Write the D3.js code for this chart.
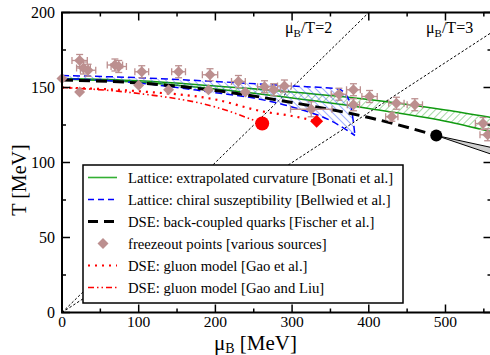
<!DOCTYPE html>
<html><head><meta charset="utf-8">
<script src="https://cdn.jsdelivr.net/npm/d3@7"></script>
<style>body{margin:0;background:#fff}svg{display:block;font-family:"Liberation Serif","Times New Roman",serif}</style>
</head><body><svg id="c" width="490" height="355"></svg>
<script>
// ---- data ----
const xTicks = [0,100,200,300,400,500];
const yTicks = [0,50,100,150,200];
// Lattice: extrapolated curvature (Bonati) band edges
const bonMu    = [0,100,200,300,400,500,560];
const bonUpper = [156,154.5,151,147,142,135,130];
const bonLower = [155.5,153.5,149,143,136,127.5,120.5];
// Lattice: chiral susceptibility (Bellwied) band edges
const belMuU   = [0,100,200,300,360,375,382];
const belUpper = [158,156.5,154,151,149,141,118];
const belMuL   = [0,100,200,250,300,350,382];
const belLower = [156,153,146.5,143,137,128,118];
// DSE back-coupled quarks (Fischer)
const dseMu = [0,100,200,300,400,488];
const dseT  = [155,153,148,140,130,118];
const cepMu = 488, cepT = 118;
const foUpperMu = [488,560], foUpperT = [118,110];
const foLowerMu = [488,560], foLowerT = [118,105.5];
// DSE gluon model (Gao et al.) dotted, ends at diamond
const gaoMu = [0,100,200,262,300,332];
const gaoT  = [150,147.5,142,134,131,127.5];
// DSE gluon model (Gao and Liu) dash-dot, ends at circle
const gaoLiuMu = [0,100,200,261];
const gaoLiuT  = [150,146,137,126];
// freezeout points
const foMu  = [0,23,28,34,23,69,74,100,104,139,152,193,191,230,239,264,276,290,325,361,380,380,401,430,436,460,549,555];
const foT   = [156,168,163,161.5,147,165,164,151.5,160.5,148.5,160.5,158.5,148.5,154,147,150.5,148.5,151,135.5,145.5,148.5,138.5,144,130.5,139.5,138.5,126,118.5];
const foDmu = [4,10,9,10,3,10,10,4,9,4,9,10,4,9,4,9,9,9,27,10,9,8,10,8,10,10,10,10];
const foDT  = [2,4,4,4,2,4,4,2,4,2,4,4,2,4,2,4,4,4,5,4,4,4,4,3,4,4,4,4];
const ratios = [2,3];
const legendLabels = [
 "Lattice: extrapolated curvature [Bonati et al.]",
 "Lattice: chiral suszeptibility [Bellwied et al.]",
 "DSE: back-coupled quarks [Fischer et al.]",
 "freezeout points [various sources]",
 "DSE: gluon model [Gao et al.]",
 "DSE: gluon model [Gao and Liu]"];

// ---- layout ----
const X0=62, X1=491.5, Y0=312.5, Y1=12.5;
const x = d3.scaleLinear().domain([0,560]).range([X0,X1]);
const y = d3.scaleLinear().domain([0,200]).range([Y0,Y1]);
const svg = d3.select("#c");
const defs = svg.append("defs");
defs.append("clipPath").attr("id","clip").append("rect")
  .attr("x",X0).attr("y",Y1).attr("width",X1-X0).attr("height",Y0-Y1);
function hatch(id,color,dir){
  const p = defs.append("pattern").attr("id",id).attr("patternUnits","userSpaceOnUse")
    .attr("width",5).attr("height",5).attr("patternTransform","rotate("+(dir>0?45:-45)+")");
  p.append("line").attr("x1",0).attr("y1",0).attr("x2",0).attr("y2",5)
    .attr("stroke",color).attr("stroke-width",0.9);
}
hatch("hg","#3aa83a",1);
hatch("hb","#3050ff",-1);

const G = svg.append("g").attr("clip-path","url(#clip)");
const zip=(a,b)=>a.map((v,i)=>[v,b[i]]);
const line = d3.line().x(d=>x(d[0])).y(d=>y(d[1])).curve(d3.curveMonotoneX);
const lineLin = d3.line().x(d=>x(d[0])).y(d=>y(d[1]));

// ratio lines
ratios.forEach(r=>{
  G.append("path").attr("d",lineLin([[0,0],[560,560/r]]))
   .attr("fill","none").attr("stroke","#000").attr("stroke-width",1).attr("stroke-dasharray","2.5,2");
});

// Bonati band
const bonArea = d3.area().x(d=>x(d[0])).y0(d=>y(d[1])).y1(d=>y(d[2])).curve(d3.curveMonotoneX);
const bonData = bonMu.map((m,i)=>[m,bonLower[i],bonUpper[i]]);
G.append("path").attr("d",bonArea(bonData)).attr("fill","url(#hg)");
G.append("path").attr("d",line(zip(bonMu,bonUpper))).attr("fill","none").attr("stroke","#109a10").attr("stroke-width",1.6);
G.append("path").attr("d",line(zip(bonMu,bonLower))).attr("fill","none").attr("stroke","#109a10").attr("stroke-width",1.6);

// Bellwied band
const belU = zip(belMuU,belUpper), belL = zip(belMuL,belLower);
const belPoly = belU.concat(belL.slice().reverse());
G.append("path").attr("d",d3.line().x(d=>x(d[0])).y(d=>y(d[1])).curve(d3.curveLinearClosed)(belPoly)).attr("fill","url(#hb)");
G.append("path").attr("d",line(belU)).attr("fill","none").attr("stroke","#0000ff").attr("stroke-width",1.5).attr("stroke-dasharray","7,4");
G.append("path").attr("d",line(belL)).attr("fill","none").attr("stroke","#0000ff").attr("stroke-width",1.5).attr("stroke-dasharray","7,4");

// red lines
G.append("path").attr("d",line(zip(gaoMu,gaoT))).attr("fill","none").attr("stroke","#ff0000").attr("stroke-width",2.2).attr("stroke-dasharray","2,5");
G.append("path").attr("d",line(zip(gaoLiuMu,gaoLiuT))).attr("fill","none").attr("stroke","#ff0000").attr("stroke-width",1.6).attr("stroke-dasharray","6,3,1.5,3,1.5,3");

// DSE
G.append("path").attr("d",line(zip(dseMu,dseT))).attr("fill","none").attr("stroke","#000").attr("stroke-width",3).attr("stroke-dasharray","11,6");
const wedge = zip(foUpperMu,foUpperT).concat(zip(foLowerMu,foLowerT).reverse());
G.append("path").attr("d",d3.line().x(d=>x(d[0])).y(d=>y(d[1])).curve(d3.curveLinearClosed)(wedge))
  .attr("fill","#d0d0d0").attr("stroke","#000").attr("stroke-width",1);

// freezeout points
const fg = svg.append("g");
const fc = "#bc8f8f";
foMu.forEach((m,i)=>{
  const cx=x(m), cy=y(foT[i]);
  const xl=x(m-foDmu[i]), xr=x(m+foDmu[i]), yt=y(foT[i]+foDT[i]), yb=y(foT[i]-foDT[i]);
  const g = fg.append("g").attr("stroke",fc).attr("stroke-width",1.3);
  g.append("line").attr("x1",xl).attr("x2",xr).attr("y1",cy).attr("y2",cy);
  g.append("line").attr("x1",cx).attr("x2",cx).attr("y1",yt).attr("y2",yb);
  if(foDmu[i]>5){
    g.append("line").attr("x1",xl).attr("x2",xl).attr("y1",cy-3.5).attr("y2",cy+3.5);
    g.append("line").attr("x1",xr).attr("x2",xr).attr("y1",cy-3.5).attr("y2",cy+3.5);
    g.append("line").attr("x1",cx-3.5).attr("x2",cx+3.5).attr("y1",yt).attr("y2",yt);
    g.append("line").attr("x1",cx-3.5).attr("x2",cx+3.5).attr("y1",yb).attr("y2",yb);
  }
  fg.append("path").attr("d",d3.symbol(d3.symbolSquare,60)())
    .attr("transform",`translate(${cx},${cy}) rotate(45)`).attr("fill",fc);
});

// CEP markers
svg.append("circle").attr("cx",x(gaoLiuMu[gaoLiuMu.length-1])).attr("cy",y(gaoLiuT[gaoLiuT.length-1])).attr("r",7).attr("fill","#ff0000");
svg.append("path").attr("d",d3.symbol(d3.symbolSquare,85)())
  .attr("transform",`translate(${x(gaoMu[gaoMu.length-1])},${y(gaoT[gaoT.length-1])}) rotate(45)`).attr("fill","#ff0000");
svg.append("circle").attr("cx",x(cepMu)).attr("cy",y(cepT)).attr("r",6).attr("fill","#000");

// ratio labels
const rlab = [[285,33],[426,33]];
ratios.forEach((r,i)=>{
  const t = svg.append("text").attr("x",rlab[i][0]).attr("y",rlab[i][1]).attr("font-size",16);
  t.append("tspan").text("μ");
  t.append("tspan").attr("font-size",11).attr("dy",4).text("B");
  t.append("tspan").attr("dy",-4).text("/T="+r);
});

// legend
const L = svg.append("g");
const lx=83, ly=165, lw=320, lh=138, rowH=22;
L.append("rect").attr("x",lx).attr("y",ly).attr("width",lw).attr("height",lh)
  .attr("fill","#fff").attr("stroke","#000").attr("stroke-width",1.5);
const styles = [
  {stroke:"#33b033",w:1.6,da:null},
  {stroke:"#0000ff",w:1.5,da:"6,4"},
  {stroke:"#000",w:3,da:"10,6"},
  null,
  {stroke:"#ff0000",w:2.2,da:"2,5"},
  {stroke:"#ff0000",w:1.5,da:"6,3,1.5,3,1.5,3"}];
legendLabels.forEach((lab,i)=>{
  const cy = ly+12.5+i*rowH;
  const s = styles[i];
  if(s){
    L.append("line").attr("x1",88).attr("x2",117).attr("y1",cy).attr("y2",cy)
     .attr("stroke",s.stroke).attr("stroke-width",s.w).attr("stroke-dasharray",s.da);
  } else {
    L.append("path").attr("d",d3.symbol(d3.symbolSquare,60)()).attr("transform",`translate(103,${cy}) rotate(45)`).attr("fill",fc);
  }
  L.append("text").attr("x",128).attr("y",cy).attr("dy","0.35em").attr("font-size",14.7).text(lab);
});

// axes frame
const A = svg.append("g");
A.append("rect").attr("x",X0).attr("y",Y1).attr("width",X1-X0).attr("height",Y0-Y1)
  .attr("fill","none").attr("stroke","#000").attr("stroke-width",2);
const xMinor = d3.range(50,560,100), yMinor = d3.range(25,200,50);
function tk(x1,y1,x2,y2){A.append("line").attr("x1",x1).attr("y1",y1).attr("x2",x2).attr("y2",y2).attr("stroke","#000").attr("stroke-width",1.5);}
xTicks.forEach(v=>{tk(x(v),Y0,x(v),Y0-8);tk(x(v),Y1,x(v),Y1+8);});
xMinor.forEach(v=>{tk(x(v),Y0,x(v),Y0-4);tk(x(v),Y1,x(v),Y1+4);});
yTicks.forEach(v=>{tk(X0,y(v),X0+8,y(v));tk(X1,y(v),X1-8,y(v));});
yMinor.forEach(v=>{tk(X0,y(v),X0+4,y(v));tk(X1,y(v),X1-4,y(v));});
xTicks.forEach(v=>A.append("text").attr("x",x(v)).attr("y",Y0+9).attr("dy","0.35em").attr("text-anchor","middle").attr("font-size",15.5).text(v));
yTicks.forEach(v=>A.append("text").attr("x",X0-7).attr("y",y(v)).attr("dy","0.35em").attr("text-anchor","end").attr("font-size",16).text(v));
A.append("text").attr("transform","translate(26,180) rotate(-90)").attr("text-anchor","middle").attr("font-size",20).text("T [MeV]");
const xl = A.append("text").attr("x",214).attr("y",349.5).attr("font-size",21);
xl.append("tspan").text("μ");
xl.append("tspan").attr("font-size",14).attr("dy",3.5).text("B");
xl.append("tspan").attr("dy",-3.5).text(" [MeV]");
</script></body></html>
